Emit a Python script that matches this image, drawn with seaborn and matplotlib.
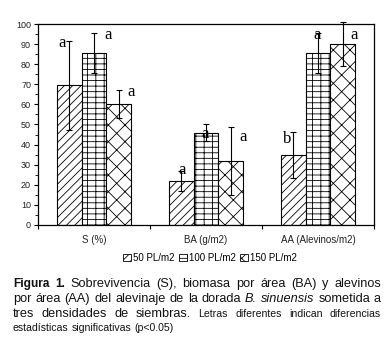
import pandas as pd
import seaborn as sns
import matplotlib.pyplot as plt
from matplotlib.patches import Patch
from matplotlib.ticker import MultipleLocator, FixedLocator

# Alevinaje de B. sinuensis - tres densidades de siembra

categories = ['S (%)', 'BA (g/m2)', 'AA (Alevinos/m2)']
densities = ['50 PL/m2', '100 PL/m2', '150 PL/m2']

mean_50 = [69.5, 22, 35]
mean_100 = [85.5, 46, 85.5]
mean_150 = [60, 32, 90]

err_50 = [22, 5, 11.5]
err_100 = [10, 4, 10]
err_150 = [7, 17, 11]

letters_50 = ['a', 'a', 'b']
letters_100 = ['a', 'a', 'a']
letters_150 = ['a', 'a', 'a']

means = [mean_50, mean_100, mean_150]
errs = [err_50, err_100, err_150]
letters = [letters_50, letters_100, letters_150]

# offsets (pixels) of each letter from the top of its error bar
letter_offsets = [
    [(-7, -2), (1, 1), (-6, -7)],
    [(14, -2), (-1, -9), (-1, -2)],
    [(12.5, -2), (12, -10), (11, -13)],
]
hatches = ['////', '---||', 'xx']

data = pd.DataFrame({
    'Variable': categories * 3,
    'Densidad': [d for d in densities for _ in categories],
    'Valor': mean_50 + mean_100 + mean_150,
})

plt.rcParams['hatch.linewidth'] = 0.6
plt.rcParams['font.family'] = ['Liberation Sans', 'DejaVu Sans']

fig = plt.figure(figsize=(3.89, 3.48), dpi=100)
ax = fig.add_axes([38 / 389, 1 - 225 / 348, 336 / 389, 201 / 348])

sns.barplot(data=data, x='Variable', y='Valor', hue='Densidad', order=categories,
            hue_order=densities, palette=['white'] * 3, edgecolor='black',
            linewidth=0.8, width=0.66, errorbar=None, legend=False, ax=ax)

bar_groups = list(ax.containers)
for i, cont in enumerate(bar_groups):
    xs = []
    for p in cont.patches:
        p.set_hatch(hatches[i])
        xs.append(p.get_x() + p.get_width() / 2)
    ax.errorbar(xs, means[i], yerr=errs[i], fmt='none', ecolor='black',
                elinewidth=0.8, capsize=2.5, capthick=0.8, clip_on=False, zorder=5)
    for j, x in enumerate(xs):
        dx, dy = letter_offsets[i][j]
        ax.annotate(letters[i][j], xy=(x, means[i][j] + errs[i][j]), xytext=(dx, dy),
                    textcoords='offset pixels', ha='center', va='center',
                    fontsize=12, family='Liberation Serif', zorder=6,
                    annotation_clip=False)

ax.set_xlim(-0.5, 2.5)
ax.set_ylim(0, 100)
ax.yaxis.set_major_locator(MultipleLocator(10))
ax.yaxis.set_minor_locator(MultipleLocator(5))
ax.xaxis.set_minor_locator(FixedLocator([-0.5, 0.5, 1.5, 2.5]))
ax.tick_params(axis='x', which='major', length=0, pad=7, labelsize=7, labelcolor='#222222')
ax.tick_params(axis='x', which='minor', length=3, width=0.8, direction='out')
ax.tick_params(axis='y', which='major', length=3, width=0.8, pad=2, labelsize=6.5,
               labelcolor='#222222')
ax.tick_params(axis='y', which='minor', length=2, width=0.6)
ax.set_xlabel('')
ax.set_ylabel('')
for s in ax.spines.values():
    s.set_linewidth(0.9)
    s.set_color('black')

handles = [Patch(facecolor='white', edgecolor='black', hatch=h, linewidth=0.6) for h in hatches]
fig.legend(handles, densities, loc='center', bbox_to_anchor=(210 / 389, 1 - 258 / 348),
           ncol=3, frameon=False, fontsize=7, handlelength=0.8, handleheight=0.8,
           handletextpad=0.2, columnspacing=0.5, borderpad=0)

# caption, justified word by word
W, H = 389.0, 348.0
renderer = fig.canvas.get_renderer()


def caption_line(pieces, y, x0=13, x1=381, justify=True):
    words = []
    for txt, kw in pieces:
        for w in txt.split():
            words.append((w, kw))
    arts = []
    widths = []
    for w, kw in words:
        t = fig.text(0, 1 - y / H, w, va='baseline', ha='left', color='#111111', **kw)
        arts.append(t)
        widths.append(t.get_window_extent(renderer).width)
    if justify and len(words) > 1:
        gap = (x1 - x0 - sum(widths)) / (len(words) - 1)
    else:
        gap = 3
    x = x0
    for t, wd in zip(arts, widths):
        t.set_x(x / W)
        x += wd + gap


big = dict(fontsize=9.2)
small = dict(fontsize=7.6)
caption_line([('Figura 1.', dict(fontsize=8.6, weight='bold')),
              ('Sobrevivencia (S), biomasa por área (BA) y alevinos', big)], 287)
caption_line([('por área (AA) del alevinaje de la dorada', big),
              ('B. sinuensis', dict(fontsize=9.2, style='italic')),
              ('sometida a', big)], 302)
caption_line([('tres densidades de siembras.', big),
              ('Letras diferentes indican diferencias', small)], 317)
caption_line([('estadísticas significativas (p<0.05)', small)], 331, justify=False)

fig.savefig('out.png', dpi=100)
